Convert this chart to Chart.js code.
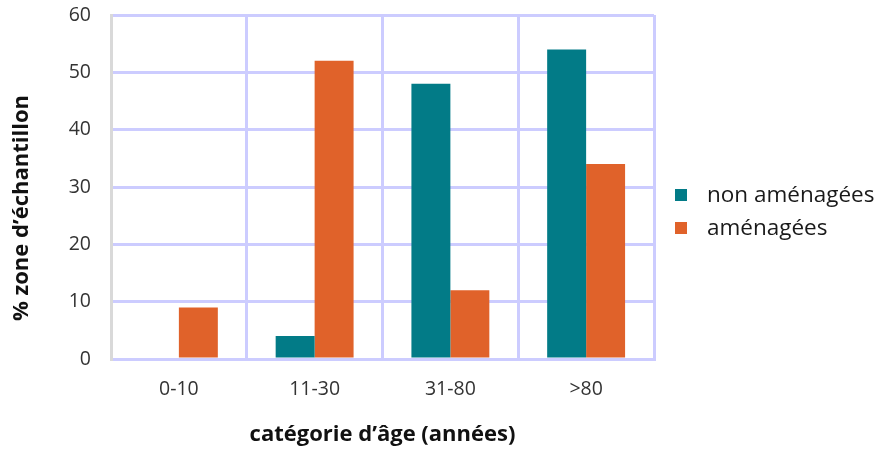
<!DOCTYPE html>
<html>
<head>
<meta charset="utf-8">
<script src="https://cdn.jsdelivr.net/npm/chart.js@4/dist/chart.umd.min.js"></script>
<style>
  html, body { margin: 0; padding: 0; background: #ffffff; }
  #wrap { width: 881px; height: 452px; position: relative; }
</style>
</head>
<body>
<div id="wrap"><canvas id="c" width="881" height="452"></canvas></div>
<script>
// Age categories and share of sampled zones (%) per management status
const categories = ['0-10', '11-30', '31-80', '>80'];
const nonAmenagees = [0, 4, 48, 54];
const amenagees = [9, 52, 12, 34];
const seriesNames = ['non aménagées', 'aménagées'];
const yTicks = [0, 10, 20, 30, 40, 50, 60];
const yTitle = '% zone d’échantillon';
const xTitle = 'catégorie d’âge (années)';

const TEAL = '#027b87';
const ORANGE = '#e0622a';
const GRID = '#ccccff';
const FONT = "'Open Sans', 'Liberation Sans', sans-serif";

// Side legend and the vertical axis title, placed relative to the plot area
const sideLegend = {
  id: 'sideLegend',
  afterDraw(chart) {
    const ctx = chart.ctx;
    const area = chart.chartArea;
    const x0 = area.right + 21;
    const rows = [195, 228];
    ctx.save();
    ctx.font = '22.5px ' + FONT;
    ctx.textBaseline = 'middle';
    chart.data.datasets.forEach((ds, i) => {
      ctx.fillStyle = ds.backgroundColor;
      ctx.fillRect(x0, rows[i] - 6, 12, 12);
      ctx.fillStyle = '#1a1a1a';
      ctx.fillText(ds.label, x0 + 32, rows[i] + 1);
    });
    ctx.restore();

    ctx.save();
    ctx.translate(22, 208);
    ctx.rotate(-Math.PI / 2);
    ctx.font = 'bold 22px ' + FONT;
    ctx.fillStyle = '#111111';
    ctx.textAlign = 'center';
    ctx.textBaseline = 'middle';
    ctx.fillText(yTitle, 0, 0);
    ctx.restore();
  }
};

new Chart(document.getElementById('c'), {
  type: 'bar',
  data: {
    labels: categories,
    datasets: [
      { label: seriesNames[0], data: nonAmenagees, backgroundColor: TEAL },
      { label: seriesNames[1], data: amenagees, backgroundColor: ORANGE }
    ]
  },
  options: {
    responsive: false,
    animation: false,
    layout: { padding: { top: 15, right: 227, left: 0, bottom: 0 } },
    datasets: { bar: { categoryPercentage: 0.574, barPercentage: 1.0 } },
    plugins: { legend: { display: false }, tooltip: { enabled: false } },
    scales: {
      x: {
        offset: true,
        grid: { color: GRID, lineWidth: 3, offset: true, drawTicks: false },
        border: { color: GRID, width: 3 },
        ticks: { color: '#333333', font: { family: FONT, size: 19.5 }, padding: 19 },
        title: {
          display: true,
          text: xTitle,
          color: '#111111',
          font: { family: FONT, size: 22, weight: 'bold' },
          padding: { top: 10 }
        },
        afterFit(scale) { scale.height = 93; scale.paddingLeft = 0; scale.paddingRight = 0; }
      },
      y: {
        min: 0,
        max: 60,
        afterBuildTicks(scale) { scale.ticks = yTicks.map(v => ({ value: v })); },
        grid: { color: GRID, lineWidth: 3, drawTicks: false },
        border: { color: '#d9d9d9', width: 3 },
        ticks: { color: '#333333', font: { family: FONT, size: 19.5 }, padding: 20 },
        title: { display: false },
        afterFit(scale) { scale.width = 111; scale.paddingTop = 0; scale.paddingBottom = 0; }
      }
    }
  },
  plugins: [sideLegend]
});
</script>
</body>
</html>
